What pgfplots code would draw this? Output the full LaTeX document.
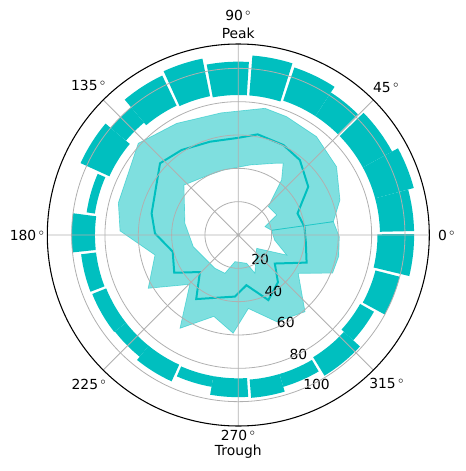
\documentclass[border=0pt]{standalone}
\usepackage{pgfplots}
\pgfplotsset{compat=1.18}
\usepgfplotslibrary{polar}
\usepackage{fontspec}
\setmainfont{DejaVu Sans}
\definecolor{cc}{rgb}{0,0.75,0.75}
\definecolor{gridc}{HTML}{B0B0B0}
\newcommand\lbl{\fontsize{10.4}{12}\selectfont}
\newcommand\dg{\,$^{\circ}$}
\newcommand\polbar[4]{%
  \gdef\pts{}%
  \foreach \k in {0,...,8}{\pgfmathsetmacro\a{#1+(#2-#1)*\k/8}\xdef\pts{\pts(\a,#4)}}%
  \foreach \k in {8,7,...,0}{\pgfmathsetmacro\a{#1+(#2-#1)*\k/8}\xdef\pts{\pts(\a,#3)}}%
  \edef\doit{\noexpand\addplot[fill=cc, draw=none] coordinates {\pts} --cycle;}%
  \doit
}
\begin{document}
\begin{tikzpicture}
\useasboundingbox (-178.725pt,-177pt) rectangle (170.775pt,176.25pt);
\begin{polaraxis}[
  at={(0,0)}, anchor=center,
  scale only axis, width=286.5pt, height=286.5pt,
  ymin=0, ymax=114.6,
  xtick={0,45,...,315}, xticklabels={},
  ytick={20,40,60,80,100}, yticklabels={},
  grid=major, major grid style={color=gridc, line width=0.6pt},
  separate axis lines,
  x axis line style={black, line width=0.8pt},
  y axis line style={draw=none},
  major tick length=0pt,
  axis on top,
  clip=false,
]
% outer bars: start angle, end angle, bottom, top
\polbar{1.3}{15}{85}{105.5}
\polbar{15}{28.5}{85}{109}
\polbar{28.5}{44.3}{85}{105}
\polbar{45.3}{57}{85}{102}
\polbar{57}{71.5}{85}{106}
\polbar{72.5}{85.5}{84}{108}
\polbar{86.5}{100.5}{84}{104}
\polbar{101.5}{114.5}{85}{108}
\polbar{115.5}{130}{86}{106}
\polbar{130}{140}{88}{100}
\polbar{140}{155.5}{85}{104}
\polbar{156.5}{171.5}{87}{92}
\polbar{172.5}{186}{86}{100}
\polbar{187}{201}{86}{95}
\polbar{202}{218}{85.5}{94.5}
\polbar{218}{231}{85.5}{94}
\polbar{231}{245.5}{85.5}{96.5}
\polbar{246.5}{260}{86}{92.5}
\polbar{260}{273.5}{86}{97.3}
\polbar{274.5}{286.5}{87}{98}
\polbar{286.5}{300.5}{87}{95}
\polbar{301.5}{317.5}{86}{99}
\polbar{317.5}{330.5}{84}{93.5}
\polbar{331.5}{345.5}{85}{100}
\polbar{346.5}{360.3}{83.5}{105.5}
% band (upper then lower reversed)
\addplot[fill=cc, fill opacity=0.5, draw=cc, draw opacity=0.5, line width=0.5pt] coordinates {
(8,57.6) (19,64.5) (34.8,71.8) (51.5,75.4) (67.8,76.7) (78.1,77.7)
(98,74) (118.9,76.5) (137.5,81.4) (165,74.5) (178,71) (193.5,51.4)
(210.6,62.8) (225.5,41.5) (238,66) (253.3,51) (267,59) (277.8,44.5)
(293.9,56.9) (311,61) (327.4,42.7) (338,61) (348,61.6) (359,60.6) (368,57.6)
(368,20.2) (352,22) (337.5,31.4) (324,13.6) (293.5,25) (286.4,17.7)
(262.9,16.1) (250.8,24.3) (235,24.4) (194.5,27.9) (167.7,32.8) (137.4,44.3)
(118,40.2) (103,40) (80.5,42.6) (62,48.8) (58,50.8) (51.8,42)
(43.4,24.8) (27.5,26) (17.4,16.8) (8,20.2)
} --cycle;
\addplot[cc, draw opacity=0.5, line width=0.6pt] coordinates {(8,20.2) (8,57.6)};
% mean line
\addplot[cc, line width=1.5pt] coordinates {
(7.2,40) (20,37.8) (34.6,51) (50.6,58.2) (63.4,60.4) (79.1,61.5)
(90,58.3) (106.9,58.5) (123.7,61.3) (137.5,63.7) (166,53.6) (178.9,50)
(194.2,40.6) (210.5,44.6) (224,32) (236.7,46) (266.9,37) (279.2,30.5)
(294.8,43) (310,37) (322,27.8) (338,44.2) (353.5,40.8) (367.2,40)
};
% labels
\node[font=\lbl] at (axis cs:0,125) {0\dg};
\node[font=\lbl] at (axis cs:45,125.5) {45\dg};
\node[font=\lbl] at (axis cs:135,127) {135\dg};
\node[font=\lbl] at (axis cs:180,126.6) {180\dg};
\node[font=\lbl] at (axis cs:225,126.6) {225\dg};
\node[font=\lbl] at (axis cs:315,126) {315\dg};
\node[font=\lbl] at (axis cs:90,132) {90\dg};
\node[font=\lbl] at (axis cs:90,121.2) {Peak};
\node[font=\lbl] at (axis cs:270,120.4) {270\dg};
\node[font=\lbl] at (axis cs:270,130.2) {Trough};
\node[font=\lbl] at (axis cs:-48,19.6) {20};
\node[font=\lbl] at (axis cs:-58,39.8) {40};
\node[font=\lbl] at (axis cs:-61.4,59.5) {60};
\node[font=\lbl] at (axis cs:-63.2,80) {80};
\node[font=\lbl] at (axis cs:-62.4,101.4) {100};
\end{polaraxis}
\end{tikzpicture}
\end{document}
